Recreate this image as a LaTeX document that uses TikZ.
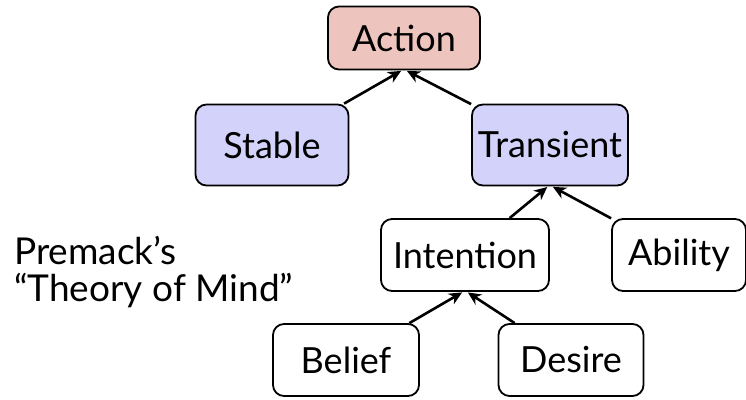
\documentclass[tikz,border=0pt]{standalone}
\usepackage{fontspec}
\setmainfont{Lato}
\usepackage{tikz}
\usetikzlibrary{arrows.meta}
\definecolor{rosemichael}{RGB}{238,197,190}
\definecolor{bleumichael}{RGB}{210,210,250}
\begin{document}
\begin{tikzpicture}[x=1pt,y=1pt]
% définition des paramètres
\tikzstyle boitemichael=[draw=black,line width=1.8pt,rounded corners=11pt,fill=white,minimum width=145pt,minimum height=72pt,inner xsep=6pt,font=\fontsize{36}{40}\selectfont]
\tikzstyle rosemichaelbox=[boitemichael,fill=rosemichael,minimum width=152pt,minimum height=63pt]
\tikzstyle bleumichaelbox=[boitemichael,fill=bleumichael,minimum width=153pt,minimum height=81pt]
\tikzstyle flechemichael=[-{Stealth[length=13pt,width=12pt,inset=4pt]},line width=2.6pt,shorten >=1pt]
\useasboundingbox (0,0) rectangle (746,399);
% les boîtes
\node[rosemichaelbox] (action) at (404,361) {Action};
\node[bleumichaelbox] (stable) at (272,254) {Stable};
\node[bleumichaelbox] (transient) at (550,254) {Transient};
\node[boitemichael,minimum width=168pt] (intention) at (465,144) {Intention};
\node[boitemichael,minimum width=134pt] (ability) at (679,144) {Ability};
\node[boitemichael,minimum width=146pt] (belief) at (346,39) {Belief};
\node[boitemichael] (desire) at (571,39) {Desire};
% le texte
\node[anchor=west,align=left,inner sep=0pt,font=\fontsize{37}{37}\selectfont] (premack) at (14,127) {Premack’s\\“Theory of Mind”};
% les flèches
\draw[flechemichael] (stable) -- ([xshift=-2pt]action.south);
\draw[flechemichael] (transient) -- ([xshift=2pt]action.south);
\draw[flechemichael] (intention) -- ([xshift=-2pt]transient.south);
\draw[flechemichael] (ability) -- ([xshift=2pt]transient.south);
\draw[flechemichael] (belief) -- ([xshift=-2pt]intention.south);
\draw[flechemichael] (desire) -- ([xshift=2pt]intention.south);
\end{tikzpicture}
\end{document}
